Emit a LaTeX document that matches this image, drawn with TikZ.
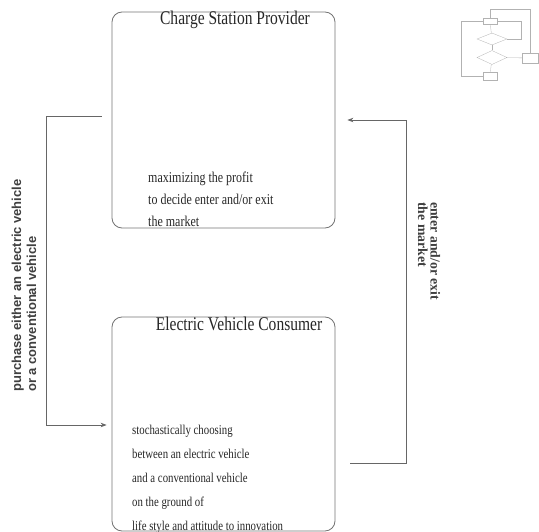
\documentclass[tikz,border=0pt]{standalone}
\usepackage{fontspec}
\setmainfont{Liberation Serif}
\newfontfamily\condserif[FakeStretch=0.8]{Liberation Serif}
\newfontfamily\labelsans{Liberation Sans}
\usetikzlibrary{arrows.meta,shapes}

\begin{document}
\begin{tikzpicture}[x=1pt,y=-1pt,
  agent/.style={draw=black!55,line width=0.8pt,rounded corners=10pt,minimum width=223pt,inner sep=0pt},
  agenttitle/.style={anchor=base,inner sep=0pt,text=black!85,font=\condserif\fontsize{19.4}{22}\selectfont},
  agenttext/.style={anchor=base west,inner sep=0pt,align=left,text=black!85},
  flow/.style={draw=black!60,line width=0.8pt,-{Stealth[length=6pt,width=4.5pt]}},
  sidelabel/.style={anchor=base west,inner sep=0pt,align=left,text=black!75},
  minibox/.style={draw=black!30,line width=0.3pt,minimum width=14pt,minimum height=6pt,inner sep=0pt},
  minidia/.style={draw=black!30,line width=0.3pt,diamond,shape aspect=2.5,minimum width=30pt,minimum height=12pt,inner sep=0pt},
  miniline/.style={draw=black!30,line width=0.3pt}]
\useasboundingbox (0,0) rectangle (539,532);

\node (CSP) at (223.5,120)[agent,minimum height=216pt] {};
\node (EVC) at (223.5,424)[agent,minimum height=214pt] {};

\node (CSPtitle) at (235,25)[agenttitle] {Charge Station Provider};
\node (EVCtitle) at (239,330.5)[agenttitle] {Electric Vehicle Consumer};

\node (CSPtext) at (148,227)[agenttext,font=\condserif\fontsize{15}{22.2}\selectfont]
  {maximizing the profit\\to decide enter and/or exit\\the market};
\node (EVCtext) at (132,530)[agenttext,font=\condserif\fontsize{13.5}{24}\selectfont]
  {stochastically choosing\\between an electric vehicle\\and a conventional vehicle\\on the ground of\\life style and attitude to innovation};

\draw [flow] ([shift={(-10,-4)}]CSP.west) -- ++(-55,0) |- ([xshift=-5pt,yshift=-1pt]EVC.west);
\draw [flow] ([shift={(15,39)}]EVC.east) -- ++(56,0) |- ([xshift=12pt]CSP.east);

\node (buy) at (36,392)[sidelabel,rotate=90,font=\labelsans\bfseries\fontsize{13}{15}\selectfont]
  {purchase either an electric vehicle\\or a conventional vehicle};
\node (market) at (418,202)[sidelabel,rotate=-90,font=\bfseries\fontsize{13.8}{12.5}\selectfont]
  {enter and/or exit\\the market};

\node (m1) at (490,21.5)[minibox] {};
\node (m2) at (492,39)[minidia] {};
\node (m3) at (492,57.5)[minidia,minimum height=14pt,shape aspect=2.1] {};
\node (m4) at (490,76)[minibox,minimum height=8pt] {};
\node (m5) at (530,58)[minibox,minimum width=16pt,minimum height=10pt] {};
\draw [miniline] (m1) -- (m2);
\draw [miniline] (m2) -- (m3);
\draw [miniline] (m3) -- (m4);
\draw [miniline] (m3) -- (m5);
\draw [miniline] (m2.east) -- ++(14,0) |- (m1.east);
\draw [miniline] (m1.west) -- ++(-22,0) |- (m4.west);
\draw [miniline] (m1.north) -- ++(0,-9) -| (m5.north);
\end{tikzpicture}
\end{document}
